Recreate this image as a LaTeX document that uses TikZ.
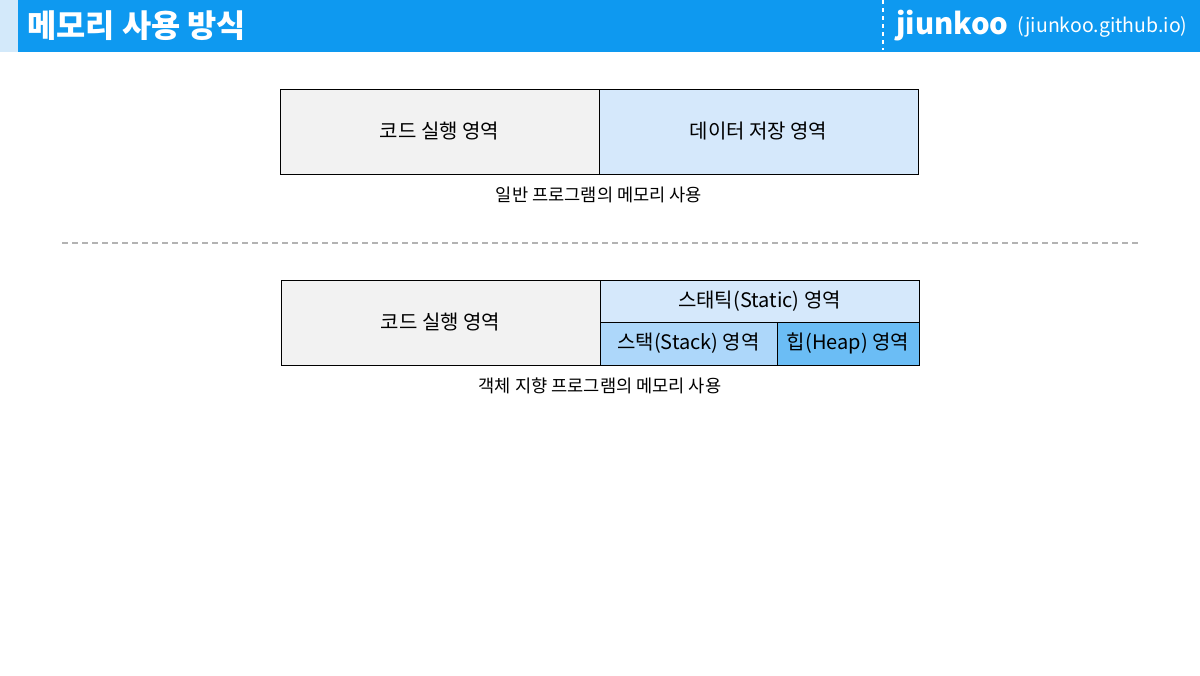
\documentclass[tikz,border=0pt]{standalone}
\usepackage{fontspec}
\setmainfont{Noto Sans CJK KR}
\definecolor{hdrblue}{HTML}{0E99F0}
\definecolor{hdrlight}{HTML}{D3E9FA}
\definecolor{codegray}{HTML}{F2F2F2}
\definecolor{datablue}{HTML}{D5E8FB}
\definecolor{stackblue}{HTML}{ADD7FA}
\definecolor{heapblue}{HTML}{6BBDF5}
\definecolor{dashgray}{HTML}{B3B3B3}
\tikzset{
  membox/.style={draw=black, line width=0.75pt},
  boxtext/.style={font=\fontsize{15pt}{18pt}\selectfont, text=black},
  captext/.style={font=\fontsize{13.2pt}{15pt}\selectfont, text=black},
}
\begin{document}
\begin{tikzpicture}[x=0.75pt,y=-0.75pt]
\useasboundingbox (0,0) rectangle (1200,675);
\fill[white] (0,0) rectangle (1200,675);
% header
\fill[hdrlight] (0,0) rectangle (18,52);
\fill[hdrblue] (18,0) rectangle (1200,52);
\node[anchor=west, text=white, font=\fontsize{23.8pt}{28pt}\selectfont\bfseries, inner sep=0pt] (title) at (27,26) {메모리 사용 방식};
\draw[white, line width=2.2pt, dash pattern=on 3pt off 3pt] (883,0) -- (883,50);
\node[anchor=west, text=white, font=\fontsize{22pt}{26pt}\selectfont\bfseries, inner sep=0pt] (brand) at (896,26) {jiunkoo};
\node[anchor=west, text=white, font=\fontsize{14.6pt}{17pt}\selectfont, inner sep=0pt] (url) at (1017,27) {(jiunkoo.github.io)};
% top diagram
\filldraw[membox, fill=codegray] (280,89) rectangle (599,174);
\filldraw[membox, fill=datablue] (599,89) rectangle (918,174);
\node[boxtext] (code1) at (439.5,131.5) {코드 실행 영역};
\node[boxtext] (data1) at (758.5,131.5) {데이터 저장 영역};
\node[captext] (cap1) at (599,195) {일반 프로그램의 메모리 사용};
% separator
\draw[dashgray, line width=1.5pt, dash pattern=on 4.5pt off 3pt] (62,243) -- (1140,243);
% bottom diagram
\filldraw[membox, fill=codegray] (281,280) rectangle (600,365);
\filldraw[membox, fill=datablue] (600,280) rectangle (919,322);
\filldraw[membox, fill=stackblue] (600,322) rectangle (777,365);
\filldraw[membox, fill=heapblue] (777,322) rectangle (919,365);
\node[boxtext] (code2) at (440.5,322.5) {코드 실행 영역};
\node[boxtext] (static) at (759.5,301) {스태틱(Static) 영역};
\node[boxtext] (stack) at (688.5,343.5) {스택(Stack) 영역};
\node[boxtext] (heap) at (848,343.5) {힙(Heap) 영역};
\node[captext] (cap2) at (600,386) {객체 지향 프로그램의 메모리 사용};
\end{tikzpicture}
\end{document}
